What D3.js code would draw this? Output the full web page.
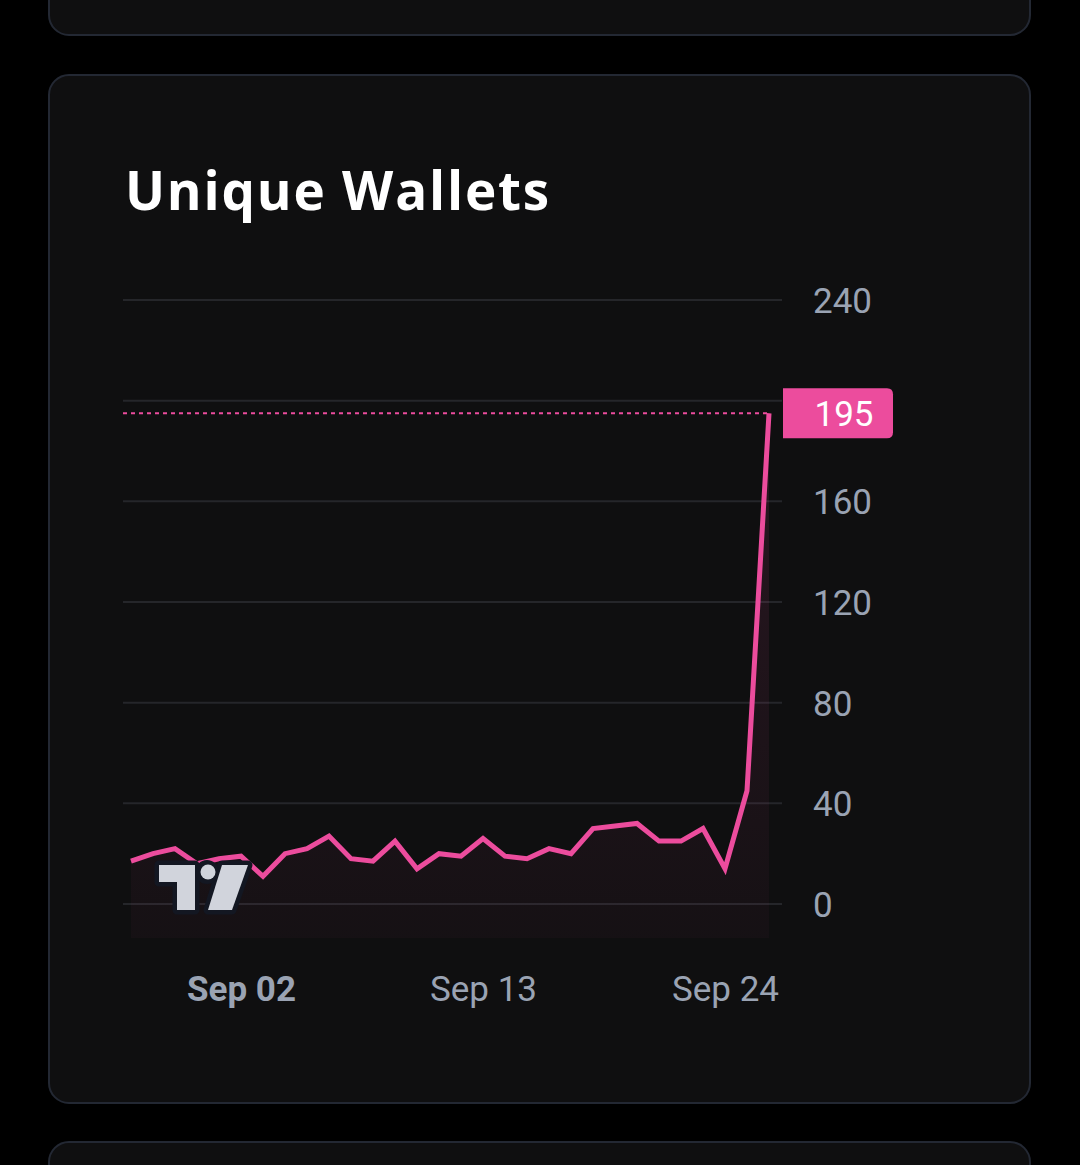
<!DOCTYPE html>
<html>
<head>
<meta charset="utf-8">
<script src="https://cdn.jsdelivr.net/npm/d3@7"></script>
<style>
  html, body { margin: 0; padding: 0; background: #000; }
  svg { display: block; }
</style>
</head>
<body>
<svg id="chart" width="1080" height="1165"></svg>
<script>
// daily unique wallets, Aug 28 .. Sep 26
var dates = [
  '2023-08-28', '2023-08-29', '2023-08-30', '2023-08-31', '2023-09-01', '2023-09-02',
  '2023-09-03', '2023-09-04', '2023-09-05', '2023-09-06', '2023-09-07', '2023-09-08',
  '2023-09-09', '2023-09-10', '2023-09-11', '2023-09-12', '2023-09-13', '2023-09-14',
  '2023-09-15', '2023-09-16', '2023-09-17', '2023-09-18', '2023-09-19', '2023-09-20',
  '2023-09-21', '2023-09-22', '2023-09-23', '2023-09-24', '2023-09-25', '2023-09-26'
];
var wallets = [
  17, 20, 22, 16, 18, 19,
  11, 20, 22, 27, 18, 17,
  25, 14, 20, 19, 26, 19,
  18, 22, 20, 30, 31, 32,
  25, 25, 30, 14, 45, 195
];
var yTicks = [0, 40, 80, 120, 160, 200, 240];
var xTickLabels = ['Sep 02', 'Sep 13', 'Sep 24'];
var xTickDates = ['2023-09-02', '2023-09-13', '2023-09-24'];

var parse = d3.timeParse('%Y-%m-%d');
var data = dates.map(function(d, i) {
  return { date: parse(d), value: wallets[i] };
});

var svg = d3.select('#chart');
var pink = '#ec4c9d';

// cards
svg.append('rect').attr('x', 49).attr('y', -60).attr('width', 981).attr('height', 95)
  .attr('rx', 20).attr('fill', '#0f0f10').attr('stroke', '#232833').attr('stroke-width', 2);
svg.append('rect').attr('x', 49).attr('y', 75).attr('width', 981).attr('height', 1028)
  .attr('rx', 20).attr('fill', '#0f0f10').attr('stroke', '#232833').attr('stroke-width', 2);
svg.append('rect').attr('x', 49).attr('y', 1142).attr('width', 981).attr('height', 100)
  .attr('rx', 20).attr('fill', '#0f0f10').attr('stroke', '#232833').attr('stroke-width', 2);

svg.append('text').attr('x', 125).attr('y', 210)
  .attr('fill', '#ffffff')
  .style('font-family', '"Open Sans", sans-serif')
  .style('font-weight', 700)
  .style('font-size', '53px')
  .style('letter-spacing', '1.8px')
  .text('Unique Wallets');

var x = d3.scaleTime()
  .domain(d3.extent(data, function(d) { return d.date; }))
  .range([131, 769]);
var y = d3.scaleLinear().domain([0, 240]).range([904, 300]);

var paneLeft = 123, paneRight = 782, paneBottom = 938;

// grid
svg.append('g').selectAll('line').data(yTicks).enter().append('line')
  .attr('x1', paneLeft).attr('x2', paneRight)
  .attr('y1', function(d) { return y(d); })
  .attr('y2', function(d) { return y(d); })
  .attr('stroke', '#25262a').attr('stroke-width', 2);

// area fill
var defs = svg.append('defs');
var grad = defs.append('linearGradient').attr('id', 'areaGrad')
  .attr('x1', 0).attr('y1', 0).attr('x2', 0).attr('y2', 1);
grad.append('stop').attr('offset', '0%').attr('stop-color', pink).attr('stop-opacity', 0.12);
grad.append('stop').attr('offset', '100%').attr('stop-color', pink).attr('stop-opacity', 0.03);

var area = d3.area()
  .x(function(d) { return x(d.date); })
  .y0(paneBottom)
  .y1(function(d) { return y(d.value); });
svg.append('path').datum(data).attr('d', area).attr('fill', 'url(#areaGrad)');

// last value dashed line
var last = data[data.length - 1];
svg.append('line')
  .attr('x1', paneLeft).attr('x2', x(last.date))
  .attr('y1', y(last.value)).attr('y2', y(last.value))
  .attr('stroke', pink).attr('stroke-width', 2).attr('stroke-dasharray', '4,4');

var line = d3.line()
  .x(function(d) { return x(d.date); })
  .y(function(d) { return y(d.value); });
svg.append('path').datum(data).attr('d', line)
  .attr('fill', 'none').attr('stroke', pink).attr('stroke-width', 5)
  .attr('stroke-linejoin', 'miter');

// y axis
var yAxis = d3.axisRight(y).tickValues(yTicks.filter(function(t) { return t !== 200; }))
  .tickSize(0).tickPadding(0);
var gy = svg.append('g').attr('transform', 'translate(813,0)').call(yAxis);
gy.select('.domain').remove();
gy.selectAll('text')
  .attr('fill', '#9aa3b3')
  .style('font-family', 'Roboto, sans-serif')
  .style('font-size', '35px')
  .attr('dy', '0.36em');

// last value label
var labelG = svg.append('g').attr('transform', 'translate(783,' + (y(last.value) - 25) + ')');
labelG.append('path')
  .attr('d', 'M0,0 H104 Q110,0 110,6 V44 Q110,50 104,50 H0 Z')
  .attr('fill', pink);
labelG.append('text').attr('x', 61).attr('y', 25).attr('dy', '0.36em')
  .attr('text-anchor', 'middle').attr('fill', '#ffffff')
  .style('font-family', 'Roboto, sans-serif').style('font-size', '35px')
  .text(last.value);

// x axis
var xAxis = d3.axisBottom(x).tickValues(xTickDates.map(parse))
  .tickSize(0).tickPadding(0)
  .tickFormat(function(d, i) { return xTickLabels[i]; });
var gx = svg.append('g').attr('transform', 'translate(0,988)').call(xAxis);
gx.select('.domain').remove();
gx.selectAll('text')
  .attr('fill', '#9aa3b3')
  .attr('dy', '0.36em')
  .style('font-family', 'Roboto, sans-serif')
  .style('font-size', '35px')
  .style('font-weight', function(d, i) { return i === 0 ? 700 : 400; });

// tradingview logo
var logo = svg.append('g');
var logoShapes = [
  'M159,865 H195 V910 H177 V882 H159 Z',
  'M222,865 H248 L232,910 H208 Z'
];
logo.selectAll('path.bg').data(logoShapes).enter().append('path')
  .attr('d', function(d) { return d; })
  .attr('fill', '#131722').attr('stroke', '#131722').attr('stroke-width', 9)
  .attr('stroke-linejoin', 'round');
logo.append('circle').attr('cx', 207).attr('cy', 872).attr('r', 12).attr('fill', '#131722');
logo.selectAll('path.fg').data(logoShapes).enter().append('path')
  .attr('d', function(d) { return d; })
  .attr('fill', '#d1d4dc');
logo.append('circle').attr('cx', 208).attr('cy', 872).attr('r', 7.5).attr('fill', '#d1d4dc');
</script>
</body>
</html>
